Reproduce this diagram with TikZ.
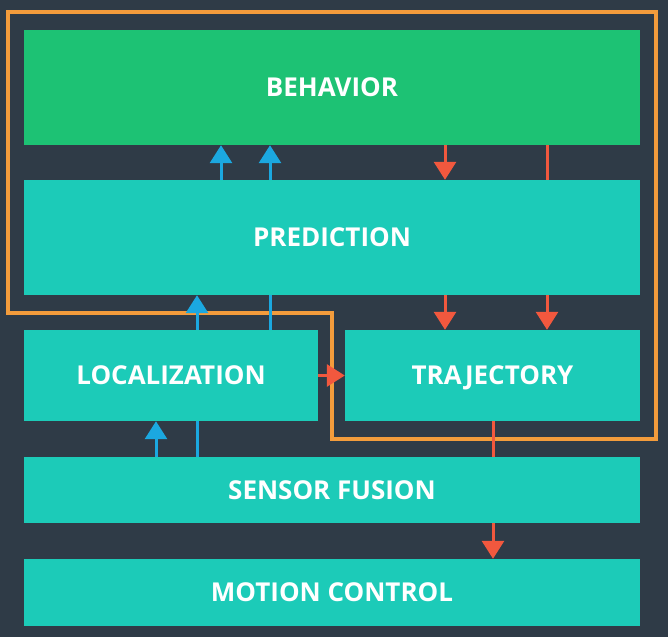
\documentclass[tikz,border=0pt]{standalone}
\usepackage{fontspec}
\setmainfont{Open Sans}
\usetikzlibrary{arrows.meta}
\definecolor{bgc}{HTML}{2F3B47}
\definecolor{behg}{HTML}{1DC274}
\definecolor{tealc}{HTML}{1CCBB8}
\definecolor{bluec}{HTML}{1BA8E0}
\definecolor{redc}{HTML}{F2583E}
\definecolor{orangec}{HTML}{F39C3C}
\tikzset{
  box/.style={rectangle, inner sep=0pt, text=white, font=\fontsize{26}{30}\selectfont\bfseries, fill=tealc, text height=18.6pt, text depth=0pt},
  barrow/.style={draw=bluec, line width=3pt, -{Triangle[width=22pt,length=18pt]}},
  bline/.style={draw=bluec, line width=3pt},
  rarrow/.style={draw=redc, line width=3pt, -{Triangle[width=22pt,length=18pt]}},
  rline/.style={draw=redc, line width=3pt},
  oline/.style={draw=orangec, line width=3.5pt, line join=miter},
}
\begin{document}
\begin{tikzpicture}[x=1pt,y=-1pt]
\fill[bgc] (0,0) rectangle (668,637);
\useasboundingbox (0,0) rectangle (668,637);
\node[box, fill=behg, minimum width=616pt, minimum height=115pt] (beh) at (332,87.5) {BEHAVIOR};
\node[box, minimum width=616pt, minimum height=115pt] (pred) at (332,237.5) {PREDICTION};
\node[box, minimum width=294pt, minimum height=91pt] (loc) at (171,375.5) {LOCALIZATION};
\node[box, minimum width=295pt, minimum height=91pt] (traj) at (492.5,375.5) {TRAJECTORY};
\node[box, minimum width=616pt, minimum height=66pt] (sens) at (332,490) {SENSOR FUSION};
\node[box, minimum width=616pt, minimum height=67pt] (mot) at (332,592.5) {MOTION CONTROL};
% orange loop
\coordinate (o1) at (8,12);
\coordinate (o2) at (8,313);
\coordinate (o3) at (332,313);
\coordinate (o4) at (332,439);
\coordinate (o5) at (656,439);
\coordinate (o6) at (656,12);
\draw[oline] (o1) -- (o2) -- (o3) -- (o4) -- (o5) -- (o6) -- cycle;
% x positions
\coordinate (xa) at (221,0);
\coordinate (xb) at (270,0);
\coordinate (xc) at (445,0);
\coordinate (xd) at (547,0);
\coordinate (xe) at (197,0);
\coordinate (xf) at (156,0);
\coordinate (xg) at (493,0);
% behavior <-> prediction
\draw[barrow] (pred.north -| xa) -- (beh.south -| xa);
\draw[barrow] (pred.north -| xb) -- (beh.south -| xb);
\draw[rarrow] (beh.south -| xc) -- (pred.north -| xc);
\draw[rline] (beh.south -| xd) -- (pred.north -| xd);
% prediction <-> localization / trajectory
\draw[barrow] (loc.north -| xe) -- (pred.south -| xe);
\draw[bline] (loc.north -| xb) -- (pred.south -| xb);
\draw[rarrow] (pred.south -| xc) -- (traj.north -| xc);
\draw[rarrow] (pred.south -| xd) -- (traj.north -| xd);
% localization -> trajectory
\draw[rarrow] (loc.east) -- (traj.west);
% sensor fusion -> localization
\draw[barrow] (sens.north -| xf) -- (loc.south -| xf);
\draw[bline] (sens.north -| xe) -- (loc.south -| xe);
% trajectory -> sensor/motion
\draw[rline] (traj.south -| xg) -- (sens.north -| xg);
\draw[rarrow] (sens.south -| xg) -- (mot.north -| xg);
\end{tikzpicture}
\end{document}
